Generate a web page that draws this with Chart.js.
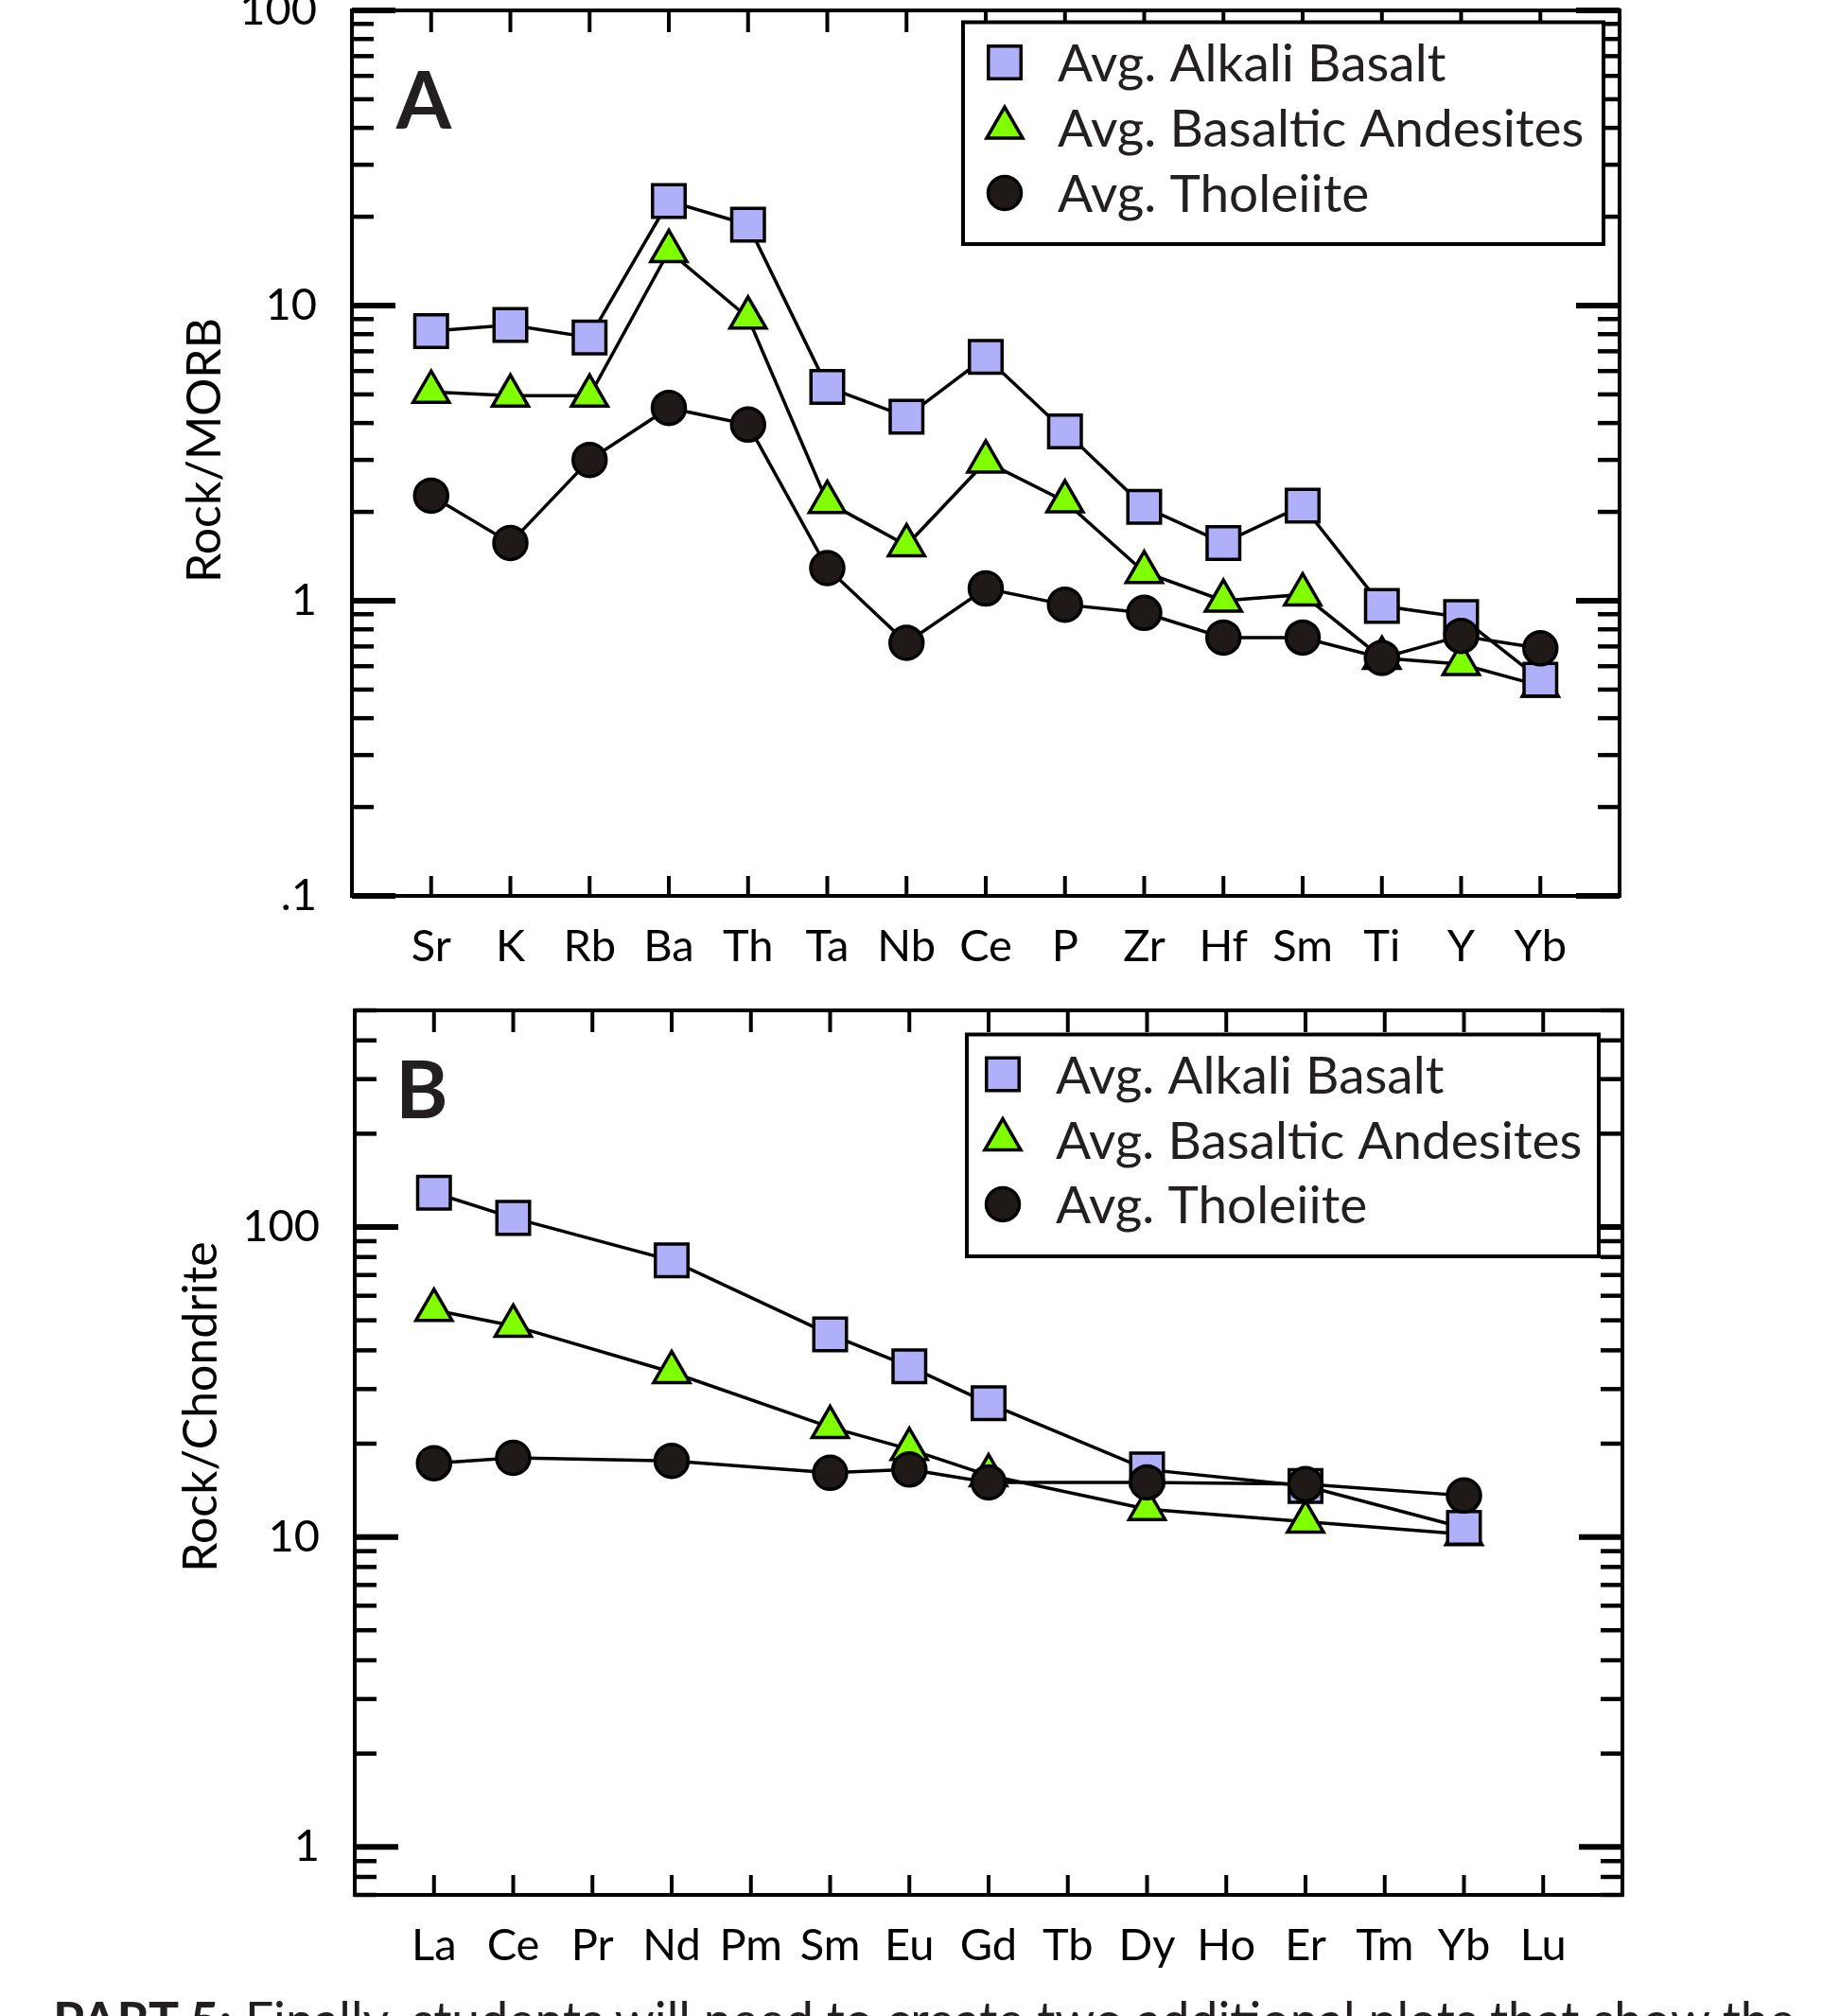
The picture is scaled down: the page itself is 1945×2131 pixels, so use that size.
<!DOCTYPE html>
<html>
<head>
<meta charset="utf-8">
<script src="https://cdn.jsdelivr.net/npm/chart.js@4.4.1/dist/chart.umd.min.js"></script>
<style>
  html, body { margin: 0; padding: 0; background: #fff; width: 1945px; height: 2131px; overflow: hidden; }
  canvas { position: absolute; left: 0; }
  #chartA { top: 0; }
  #chartB { top: 1065px; }
  #caption { position: absolute; left: 56px; top: 2108px; font: 53.5px Lato, sans-serif; line-height: 1; white-space: nowrap; color: #231f20; }
</style>
</head>
<body>
<canvas id="chartA" width="1945" height="1065"></canvas>
<canvas id="chartB" width="1945" height="1066"></canvas>
<div id="caption"><b>PART 5:</b> Finally, students will need to create two additional plots that show the</div>
<script>
// --- A: trace elements normalised to MORB
const traceElements = ['Sr', 'K', 'Rb', 'Ba', 'Th', 'Ta', 'Nb', 'Ce', 'P', 'Zr', 'Hf', 'Sm', 'Ti', 'Y', 'Yb'];
const alkaliMorb    = [8.2, 8.6, 7.8, 22.6, 18.8, 5.3, 4.2, 6.7, 3.75, 2.08, 1.57, 2.1, 0.96, 0.88, 0.54];
const andesiteMorb  = [5.1, 4.95, 4.95, 15.3, 9.1, 2.16, 1.54, 2.96, 2.17, 1.25, 1.0, 1.05, 0.64, 0.61, 0.515];
const tholeiiteMorb = [2.27, 1.57, 3.0, 4.5, 3.95, 1.29, 0.72, 1.1, 0.97, 0.91, 0.75, 0.75, 0.64, 0.76, 0.69];
const yTicksA  = [0.1, 1, 10, 100];
const yLabelsA = ['.1', '1', '10', '100'];

// --- B: rare earth elements normalised to chondrite (null = not analysed)
const reeElements    = ['La', 'Ce', 'Pr', 'Nd', 'Pm', 'Sm', 'Eu', 'Gd', 'Tb', 'Dy', 'Ho', 'Er', 'Tm', 'Yb', 'Lu'];
const alkaliChon    = [129, 107, null, 78, null, 45, 35.5, 27, null, 16.5, null, 14.6, null, 10.7, null];
const andesiteChon  = [54, 48, null, 34, null, 22.6, 19.2, 15.8, null, 12.3, null, 11.2, null, 10.2, null];
const tholeiiteChon = [17.3, 18, null, 17.6, null, 16.1, 16.5, 15, null, 15, null, 14.8, null, 13.6, null];
const yTicksB  = [1, 10, 100];
const yLabelsB = ['1', '10', '100'];

const seriesNames = ['Avg. Alkali Basalt', 'Avg. Basaltic Andesites', 'Avg. Tholeiite'];

const FONT = 'Lato';
const INK = '#231f20';

function toPoints(values) {
    return values.map((v, i) => ({ x: i, y: v })).filter(p => p.y !== null);
}

function makeDatasets(alkali, andesite, tholeiite) {
    const common = { borderColor: '#000', borderWidth: 3.5, pointBorderColor: '#000', pointBorderWidth: 3.5, fill: false, tension: 0 };
    return [
        { ...common, label: seriesNames[0], data: toPoints(alkali), order: 2,
          pointStyle: 'rect', pointRadius: 24.4, pointBackgroundColor: '#b0b0fa' },
        { ...common, label: seriesNames[1], data: toPoints(andesite), order: 3,
          pointStyle: 'triangle', pointRadius: 22, pointBackgroundColor: '#80ff00' },
        { ...common, label: seriesNames[2], data: toPoints(tholeiite), order: 1,
          pointStyle: 'circle', pointRadius: 17.5, pointBackgroundColor: '#1f1a17' }
    ];
}

// inward ticks on all four sides + the frame
const frameAndTicks = {
    id: 'frameAndTicks',
    beforeDatasetsDraw(chart, args, o) {
        const { ctx, chartArea: a, scales: { x, y } } = chart;
        const seg = (x1, y1, x2, y2, w) => {
            ctx.lineWidth = w;
            ctx.beginPath(); ctx.moveTo(x1, y1); ctx.lineTo(x2, y2); ctx.stroke();
        };
        ctx.save();
        ctx.strokeStyle = '#000';
        o.categories.forEach((c, i) => {
            const px = x.getPixelForValue(i);
            seg(px, a.top, px, a.top + 23, 4);
            seg(px, a.bottom, px, a.bottom - 21, 4);
        });
        for (let d = Math.pow(10, Math.floor(Math.log10(y.min))); d <= y.max * 1.001; d *= 10) {
            for (let m = 1; m <= 9; m++) {
                const v = d * m;
                if (v < y.min * 0.999 || v > y.max * 1.001) continue;
                const py = y.getPixelForValue(v);
                const len = m === 1 ? 46 : 23;
                const w = m === 1 ? 6 : 4.5;
                seg(a.left, py, a.left + len, py, w);
                seg(a.right, py, a.right - len, py, w);
            }
        }
        ctx.lineWidth = 4;
        ctx.strokeRect(a.left, a.top, a.width, a.height);
        ctx.restore();
    }
};

// boxed legend, panel letter and rotated y title
const panelDecor = {
    id: 'panelDecor',
    afterDatasetsDraw(chart, args, o) {
        const ctx = chart.ctx;
        const b = o.box;
        ctx.save();
        ctx.fillStyle = '#fff';
        ctx.fillRect(b.x, b.y, b.w, b.h);
        ctx.strokeStyle = '#000';
        ctx.lineWidth = 4;
        ctx.strokeRect(b.x, b.y, b.w, b.h);

        chart.data.datasets.forEach((ds, i) => {
            const ry = o.rows[i];
            ctx.fillStyle = ds.pointBackgroundColor;
            ctx.strokeStyle = ds.pointBorderColor;
            ctx.lineWidth = ds.pointBorderWidth;
            Chart.helpers.drawPoint(ctx, { pointStyle: ds.pointStyle, radius: ds.pointRadius, rotation: 0, borderWidth: ds.pointBorderWidth }, o.markerX, ry);
            ctx.fillStyle = INK;
            ctx.font = `55px ${FONT}`;
            ctx.textAlign = 'left';
            ctx.textBaseline = 'alphabetic';
            ctx.fillText(ds.label, o.textX, ry + 20);
        });

        ctx.fillStyle = INK;
        ctx.font = `bold 84px ${FONT}`;
        ctx.textAlign = 'center';
        ctx.textBaseline = 'alphabetic';
        ctx.fillText(o.letter, o.letterX, o.letterY + 30);

        ctx.translate(o.titleX, o.titleY);
        ctx.rotate(-Math.PI / 2);
        ctx.fillStyle = '#000';
        ctx.font = `50px ${FONT}`;
        ctx.textBaseline = 'middle';
        ctx.fillText(o.title, 0, 0);
        ctx.restore();
    }
};

function buildChart(id, cfg) {
    return new Chart(document.getElementById(id), {
        type: 'line',
        data: { datasets: makeDatasets(...cfg.series) },
        options: {
            responsive: false,
            animation: false,
            events: [],
            layout: { autoPadding: false, padding: cfg.padding },
            scales: {
                x: {
                    type: 'linear',
                    min: -1,
                    max: 15,
                    grid: { display: false, drawTicks: false },
                    border: { display: false },
                    afterFit(s) {
                        s.height = cfg.xHeight;
                        s.paddingLeft = 0; s.paddingRight = 0;
                    },
                    afterBuildTicks(s) { s.ticks = cfg.categories.map((c, i) => ({ value: i })); },
                    ticks: {
                        autoSkip: false,
                        maxRotation: 0,
                        padding: 26,
                        color: '#000',
                        font: { family: FONT, size: 47 },
                        callback: v => cfg.categories[v]
                    }
                },
                y: {
                    type: 'logarithmic',
                    min: cfg.yMin,
                    max: cfg.yMax,
                    grid: { display: false, drawTicks: false },
                    border: { display: false },
                    afterFit(s) {
                        s.width = cfg.yWidth;
                        s.paddingTop = 0; s.paddingBottom = 0;
                    },
                    afterBuildTicks(s) { s.ticks = cfg.yTicks.map(v => ({ value: v })); },
                    ticks: {
                        autoSkip: false,
                        padding: 37,
                        color: '#000',
                        font: { family: FONT, size: 47 },
                        callback: v => cfg.yLabels[cfg.yTicks.indexOf(v)]
                    }
                }
            },
            plugins: {
                legend: { display: false },
                tooltip: { enabled: false },
                frameAndTicks: { categories: cfg.categories },
                panelDecor: cfg.decor
            }
        },
        plugins: [frameAndTicks, panelDecor]
    });
}

buildChart('chartA', {
    series: [alkaliMorb, andesiteMorb, tholeiiteMorb],
    categories: traceElements,
    yMin: 0.1, yMax: 100,
    yTicks: yTicksA, yLabels: yLabelsA,
    padding: { top: 11, right: 233, bottom: 0, left: 0 },
    yWidth: 372, xHeight: 118,
    decor: {
        box: { x: 1018, y: 23.5, w: 677, h: 234.5 },
        markerX: 1062, textX: 1118, rows: [66, 135, 204],
        letter: 'A', letterX: 448, letterY: 106,
        title: 'Rock/MORB', titleX: 217, titleY: 476
    }
});

buildChart('chartB', {
    series: [alkaliChon, andesiteChon, tholeiiteChon],
    categories: reeElements,
    yMin: 0.7, yMax: 500,
    yTicks: yTicksB, yLabels: yLabelsB,
    padding: { top: 3, right: 230, bottom: 0, left: 0 },
    yWidth: 375, xHeight: 128,
    decor: {
        box: { x: 1022, y: 28.5, w: 668, h: 234.5 },
        markerX: 1060, textX: 1116, rows: [70.5, 139.5, 208],
        letter: 'B', letterX: 446, letterY: 87,
        title: 'Rock/Chondrite', titleX: 213, titleY: 422
    }
});
</script>
</body>
</html>
